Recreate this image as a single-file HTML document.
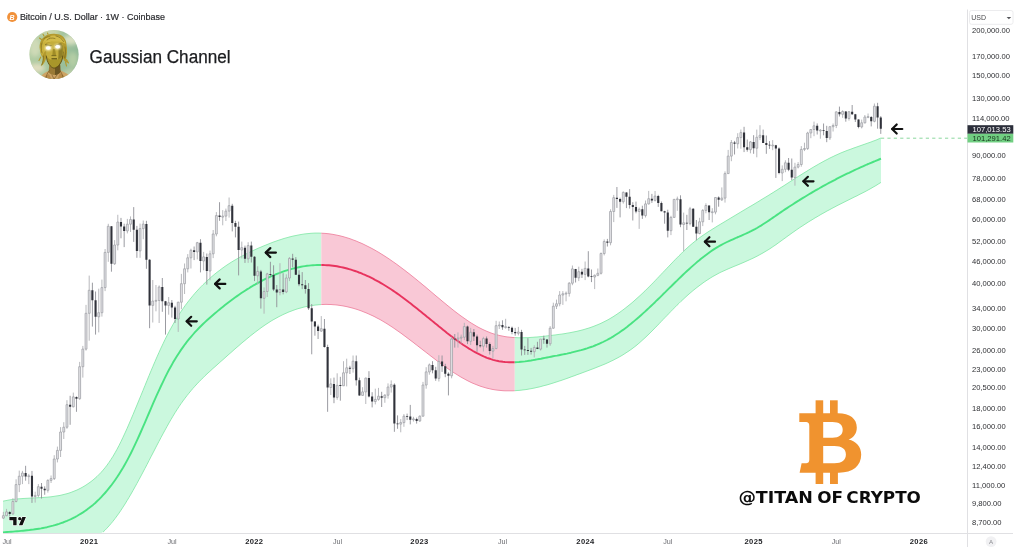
<!DOCTYPE html>
<html lang="en"><head><meta charset="utf-8"><title>Gaussian Channel</title>
<style>html,body{margin:0;padding:0;background:#fff}body{width:1023px;height:557px;overflow:hidden}svg{display:block}text{font-family:"Liberation Sans", Arial, sans-serif}</style></head><body>
<svg width="1023" height="557" viewBox="0 0 1023 557">
<rect width="1023" height="557" fill="#fff"/>
<g id="bands" stroke-linejoin="round" stroke-linecap="butt">
<path d="M3.0,501.2 L5.0,500.8 L7.0,500.4 L9.0,500.0 L11.0,499.7 L13.0,499.5 L15.0,499.2 L17.0,499.0 L19.0,498.8 L21.0,498.7 L23.0,498.5 L25.0,498.4 L27.0,498.3 L29.0,498.2 L31.0,498.1 L33.0,498.0 L35.0,497.9 L37.0,497.8 L39.0,497.7 L41.0,497.6 L43.0,497.5 L45.0,497.3 L47.0,497.2 L49.0,497.0 L51.0,496.8 L53.0,496.5 L55.0,496.2 L57.0,495.9 L59.0,495.6 L61.0,495.2 L63.0,494.7 L65.0,494.2 L67.0,493.7 L69.0,493.1 L71.0,492.4 L73.0,491.6 L75.0,490.8 L77.0,490.0 L79.0,489.0 L81.0,488.0 L83.0,486.9 L85.0,485.7 L87.0,484.4 L89.0,483.0 L91.0,481.6 L93.0,480.0 L95.0,478.3 L97.0,476.5 L99.0,474.5 L101.0,472.5 L103.0,470.2 L105.0,467.8 L107.0,465.2 L109.0,462.4 L111.0,459.4 L113.0,456.3 L115.0,452.9 L117.0,449.3 L119.0,445.5 L121.0,441.5 L123.0,437.3 L125.0,433.0 L127.0,428.6 L129.0,424.0 L131.0,419.3 L133.0,414.6 L135.0,409.8 L137.0,405.0 L139.0,400.1 L141.0,395.3 L143.0,390.4 L145.0,385.5 L147.0,380.6 L149.0,375.7 L151.0,370.9 L153.0,366.2 L155.0,361.5 L157.0,356.9 L159.0,352.4 L161.0,348.0 L163.0,343.8 L165.0,339.6 L167.0,335.6 L169.0,331.8 L171.0,328.1 L173.0,324.5 L175.0,321.1 L177.0,317.8 L179.0,314.6 L181.0,311.6 L183.0,308.7 L185.0,305.8 L187.0,303.1 L189.0,300.5 L191.0,298.0 L193.0,295.6 L195.0,293.2 L197.0,291.0 L199.0,288.8 L201.0,286.7 L203.0,284.7 L205.0,282.8 L207.0,280.9 L209.0,279.1 L211.0,277.3 L213.0,275.6 L215.0,273.9 L217.0,272.3 L219.0,270.8 L221.0,269.3 L223.0,267.8 L225.0,266.4 L227.0,265.0 L229.0,263.7 L231.0,262.4 L233.0,261.2 L235.0,260.0 L237.0,258.9 L239.0,257.7 L241.0,256.6 L243.0,255.6 L245.0,254.5 L247.0,253.5 L249.0,252.5 L251.0,251.6 L253.0,250.6 L255.0,249.7 L257.0,248.8 L259.0,247.9 L261.0,247.1 L263.0,246.2 L265.0,245.4 L267.0,244.6 L269.0,243.8 L271.0,243.0 L273.0,242.2 L275.0,241.5 L277.0,240.8 L279.0,240.1 L281.0,239.5 L283.0,238.8 L285.0,238.2 L287.0,237.7 L289.0,237.1 L291.0,236.6 L293.0,236.1 L295.0,235.7 L297.0,235.3 L299.0,234.9 L301.0,234.5 L303.0,234.2 L305.0,233.9 L307.0,233.7 L309.0,233.5 L311.0,233.3 L313.0,233.2 L315.0,233.1 L317.0,233.1 L319.0,233.1 L321.0,233.2 L321.3,233.2 L321.3,304.5 L321.0,304.6 L319.0,304.7 L317.0,304.9 L315.0,305.1 L313.0,305.4 L311.0,305.7 L309.0,306.0 L307.0,306.4 L305.0,306.8 L303.0,307.3 L301.0,307.9 L299.0,308.4 L297.0,309.0 L295.0,309.7 L293.0,310.4 L291.0,311.2 L289.0,311.9 L287.0,312.8 L285.0,313.7 L283.0,314.6 L281.0,315.6 L279.0,316.6 L277.0,317.7 L275.0,318.8 L273.0,319.9 L271.0,321.1 L269.0,322.4 L267.0,323.7 L265.0,325.0 L263.0,326.4 L261.0,327.8 L259.0,329.3 L257.0,330.8 L255.0,332.3 L253.0,333.9 L251.0,335.4 L249.0,337.1 L247.0,338.7 L245.0,340.4 L243.0,342.0 L241.0,343.7 L239.0,345.5 L237.0,347.2 L235.0,348.9 L233.0,350.7 L231.0,352.5 L229.0,354.2 L227.0,356.0 L225.0,357.8 L223.0,359.6 L221.0,361.3 L219.0,363.1 L217.0,364.9 L215.0,366.7 L213.0,368.4 L211.0,370.3 L209.0,372.1 L207.0,373.9 L205.0,375.8 L203.0,377.8 L201.0,379.8 L199.0,381.8 L197.0,383.9 L195.0,386.1 L193.0,388.3 L191.0,390.7 L189.0,393.1 L187.0,395.6 L185.0,398.2 L183.0,400.9 L181.0,403.7 L179.0,406.6 L177.0,409.7 L175.0,412.8 L173.0,416.1 L171.0,419.5 L169.0,422.9 L167.0,426.5 L165.0,430.1 L163.0,433.8 L161.0,437.5 L159.0,441.3 L157.0,445.1 L155.0,449.0 L153.0,452.9 L151.0,456.7 L149.0,460.6 L147.0,464.5 L145.0,468.3 L143.0,472.1 L141.0,475.9 L139.0,479.6 L137.0,483.3 L135.0,486.9 L133.0,490.5 L131.0,494.0 L129.0,497.4 L127.0,500.7 L125.0,504.0 L123.0,507.1 L121.0,510.2 L119.0,513.1 L117.0,515.9 L115.0,518.6 L113.0,521.2 L111.0,523.6 L109.0,525.9 L107.0,528.1 L105.0,530.2 L103.0,532.1 L101.0,533.2 L99.0,533.2 L97.0,533.2 L95.0,533.2 L93.0,533.2 L91.0,533.2 L89.0,533.2 L87.0,533.2 L85.0,533.2 L83.0,533.2 L81.0,533.2 L79.0,533.2 L77.0,533.2 L75.0,533.2 L73.0,533.2 L71.0,533.2 L69.0,533.2 L67.0,533.2 L65.0,533.2 L63.0,533.2 L61.0,533.2 L59.0,533.2 L57.0,533.2 L55.0,533.2 L53.0,533.2 L51.0,533.2 L49.0,533.2 L47.0,533.2 L45.0,533.2 L43.0,533.2 L41.0,533.2 L39.0,533.2 L37.0,533.2 L35.0,533.2 L33.0,533.2 L31.0,533.2 L29.0,533.2 L27.0,533.2 L25.0,533.2 L23.0,533.2 L21.0,533.2 L19.0,533.2 L17.0,533.2 L15.0,533.2 L13.0,533.2 L11.0,533.2 L9.0,533.2 L7.0,533.2 L5.0,533.2 L3.0,533.2 Z" fill="#cbf8de"/>
<path d="M3.0,501.2 L5.0,500.8 L7.0,500.4 L9.0,500.0 L11.0,499.7 L13.0,499.5 L15.0,499.2 L17.0,499.0 L19.0,498.8 L21.0,498.7 L23.0,498.5 L25.0,498.4 L27.0,498.3 L29.0,498.2 L31.0,498.1 L33.0,498.0 L35.0,497.9 L37.0,497.8 L39.0,497.7 L41.0,497.6 L43.0,497.5 L45.0,497.3 L47.0,497.2 L49.0,497.0 L51.0,496.8 L53.0,496.5 L55.0,496.2 L57.0,495.9 L59.0,495.6 L61.0,495.2 L63.0,494.7 L65.0,494.2 L67.0,493.7 L69.0,493.1 L71.0,492.4 L73.0,491.6 L75.0,490.8 L77.0,490.0 L79.0,489.0 L81.0,488.0 L83.0,486.9 L85.0,485.7 L87.0,484.4 L89.0,483.0 L91.0,481.6 L93.0,480.0 L95.0,478.3 L97.0,476.5 L99.0,474.5 L101.0,472.5 L103.0,470.2 L105.0,467.8 L107.0,465.2 L109.0,462.4 L111.0,459.4 L113.0,456.3 L115.0,452.9 L117.0,449.3 L119.0,445.5 L121.0,441.5 L123.0,437.3 L125.0,433.0 L127.0,428.6 L129.0,424.0 L131.0,419.3 L133.0,414.6 L135.0,409.8 L137.0,405.0 L139.0,400.1 L141.0,395.3 L143.0,390.4 L145.0,385.5 L147.0,380.6 L149.0,375.7 L151.0,370.9 L153.0,366.2 L155.0,361.5 L157.0,356.9 L159.0,352.4 L161.0,348.0 L163.0,343.8 L165.0,339.6 L167.0,335.6 L169.0,331.8 L171.0,328.1 L173.0,324.5 L175.0,321.1 L177.0,317.8 L179.0,314.6 L181.0,311.6 L183.0,308.7 L185.0,305.8 L187.0,303.1 L189.0,300.5 L191.0,298.0 L193.0,295.6 L195.0,293.2 L197.0,291.0 L199.0,288.8 L201.0,286.7 L203.0,284.7 L205.0,282.8 L207.0,280.9 L209.0,279.1 L211.0,277.3 L213.0,275.6 L215.0,273.9 L217.0,272.3 L219.0,270.8 L221.0,269.3 L223.0,267.8 L225.0,266.4 L227.0,265.0 L229.0,263.7 L231.0,262.4 L233.0,261.2 L235.0,260.0 L237.0,258.9 L239.0,257.7 L241.0,256.6 L243.0,255.6 L245.0,254.5 L247.0,253.5 L249.0,252.5 L251.0,251.6 L253.0,250.6 L255.0,249.7 L257.0,248.8 L259.0,247.9 L261.0,247.1 L263.0,246.2 L265.0,245.4 L267.0,244.6 L269.0,243.8 L271.0,243.0 L273.0,242.2 L275.0,241.5 L277.0,240.8 L279.0,240.1 L281.0,239.5 L283.0,238.8 L285.0,238.2 L287.0,237.7 L289.0,237.1 L291.0,236.6 L293.0,236.1 L295.0,235.7 L297.0,235.3 L299.0,234.9 L301.0,234.5 L303.0,234.2 L305.0,233.9 L307.0,233.7 L309.0,233.5 L311.0,233.3 L313.0,233.2 L315.0,233.1 L317.0,233.1 L319.0,233.1 L321.0,233.2 L321.3,233.2" fill="none" stroke="#8ae9ad" stroke-width="0.9"/>
<path d="M103.0,532.1 L105.0,530.2 L107.0,528.1 L109.0,525.9 L111.0,523.6 L113.0,521.2 L115.0,518.6 L117.0,515.9 L119.0,513.1 L121.0,510.2 L123.0,507.1 L125.0,504.0 L127.0,500.7 L129.0,497.4 L131.0,494.0 L133.0,490.5 L135.0,486.9 L137.0,483.3 L139.0,479.6 L141.0,475.9 L143.0,472.1 L145.0,468.3 L147.0,464.5 L149.0,460.6 L151.0,456.7 L153.0,452.9 L155.0,449.0 L157.0,445.1 L159.0,441.3 L161.0,437.5 L163.0,433.8 L165.0,430.1 L167.0,426.5 L169.0,422.9 L171.0,419.5 L173.0,416.1 L175.0,412.8 L177.0,409.7 L179.0,406.6 L181.0,403.7 L183.0,400.9 L185.0,398.2 L187.0,395.6 L189.0,393.1 L191.0,390.7 L193.0,388.3 L195.0,386.1 L197.0,383.9 L199.0,381.8 L201.0,379.8 L203.0,377.8 L205.0,375.8 L207.0,373.9 L209.0,372.1 L211.0,370.3 L213.0,368.4 L215.0,366.7 L217.0,364.9 L219.0,363.1 L221.0,361.3 L223.0,359.6 L225.0,357.8 L227.0,356.0 L229.0,354.2 L231.0,352.5 L233.0,350.7 L235.0,348.9 L237.0,347.2 L239.0,345.5 L241.0,343.7 L243.0,342.0 L245.0,340.4 L247.0,338.7 L249.0,337.1 L251.0,335.4 L253.0,333.9 L255.0,332.3 L257.0,330.8 L259.0,329.3 L261.0,327.8 L263.0,326.4 L265.0,325.0 L267.0,323.7 L269.0,322.4 L271.0,321.1 L273.0,319.9 L275.0,318.8 L277.0,317.7 L279.0,316.6 L281.0,315.6 L283.0,314.6 L285.0,313.7 L287.0,312.8 L289.0,311.9 L291.0,311.2 L293.0,310.4 L295.0,309.7 L297.0,309.0 L299.0,308.4 L301.0,307.9 L303.0,307.3 L305.0,306.8 L307.0,306.4 L309.0,306.0 L311.0,305.7 L313.0,305.4 L315.0,305.1 L317.0,304.9 L319.0,304.7 L321.0,304.6 L321.3,304.5" fill="none" stroke="#8ae9ad" stroke-width="0.9"/>
<path d="M3.0,532.4 L5.0,532.2 L7.0,532.0 L9.0,531.9 L11.0,531.7 L13.0,531.6 L15.0,531.4 L17.0,531.2 L19.0,531.1 L21.0,530.9 L23.0,530.7 L25.0,530.5 L27.0,530.3 L29.0,530.1 L31.0,529.8 L33.0,529.6 L35.0,529.3 L37.0,529.0 L39.0,528.7 L41.0,528.4 L43.0,528.0 L45.0,527.6 L47.0,527.2 L49.0,526.7 L51.0,526.2 L53.0,525.7 L55.0,525.1 L57.0,524.5 L59.0,523.9 L61.0,523.2 L63.0,522.5 L65.0,521.7 L67.0,520.9 L69.0,520.0 L71.0,519.1 L73.0,518.1 L75.0,517.1 L77.0,516.0 L79.0,514.8 L81.0,513.6 L83.0,512.4 L85.0,511.0 L87.0,509.6 L89.0,508.1 L91.0,506.5 L93.0,504.9 L95.0,503.2 L97.0,501.3 L99.0,499.4 L101.0,497.4 L103.0,495.2 L105.0,493.0 L107.0,490.7 L109.0,488.2 L111.0,485.7 L113.0,483.0 L115.0,480.2 L117.0,477.3 L119.0,474.2 L121.0,471.0 L123.0,467.7 L125.0,464.2 L127.0,460.6 L129.0,456.9 L131.0,453.0 L133.0,448.9 L135.0,444.7 L137.0,440.4 L139.0,436.0 L141.0,431.5 L143.0,426.9 L145.0,422.3 L147.0,417.6 L149.0,413.0 L151.0,408.4 L153.0,403.7 L155.0,399.2 L157.0,394.7 L159.0,390.3 L161.0,386.0 L163.0,381.8 L165.0,377.7 L167.0,373.7 L169.0,369.8 L171.0,366.2 L173.0,362.6 L175.0,359.2 L177.0,356.0 L179.0,352.9 L181.0,349.9 L183.0,347.1 L185.0,344.3 L187.0,341.7 L189.0,339.2 L191.0,336.8 L193.0,334.5 L195.0,332.2 L197.0,330.1 L199.0,328.0 L201.0,326.0 L203.0,324.0 L205.0,322.1 L207.0,320.3 L209.0,318.5 L211.0,316.7 L213.0,315.0 L215.0,313.3 L217.0,311.6 L219.0,309.9 L221.0,308.3 L223.0,306.7 L225.0,305.1 L227.0,303.5 L229.0,302.0 L231.0,300.5 L233.0,299.0 L235.0,297.5 L237.0,296.1 L239.0,294.7 L241.0,293.3 L243.0,292.0 L245.0,290.7 L247.0,289.4 L249.0,288.2 L251.0,286.9 L253.0,285.7 L255.0,284.6 L257.0,283.4 L259.0,282.3 L261.0,281.3 L263.0,280.2 L265.0,279.2 L267.0,278.2 L269.0,277.3 L271.0,276.4 L273.0,275.5 L275.0,274.7 L277.0,273.8 L279.0,273.1 L281.0,272.3 L283.0,271.6 L285.0,270.9 L287.0,270.3 L289.0,269.7 L291.0,269.1 L293.0,268.6 L295.0,268.1 L297.0,267.6 L299.0,267.2 L301.0,266.8 L303.0,266.4 L305.0,266.1 L307.0,265.8 L309.0,265.6 L311.0,265.4 L313.0,265.2 L315.0,265.1 L317.0,265.0 L319.0,265.0 L321.0,265.0 L321.3,265.0" fill="none" stroke="#49e382" stroke-width="1.9"/>
<path d="M321.3,233.2 L323.0,233.3 L325.0,233.4 L327.0,233.6 L329.0,233.8 L331.0,234.1 L333.0,234.4 L335.0,234.8 L337.0,235.2 L339.0,235.6 L341.0,236.1 L343.0,236.6 L345.0,237.2 L347.0,237.8 L349.0,238.4 L351.0,239.1 L353.0,239.9 L355.0,240.6 L357.0,241.4 L359.0,242.3 L361.0,243.1 L363.0,244.0 L365.0,245.0 L367.0,246.0 L369.0,247.0 L371.0,248.0 L373.0,249.1 L375.0,250.2 L377.0,251.4 L379.0,252.5 L381.0,253.8 L383.0,255.0 L385.0,256.3 L387.0,257.6 L389.0,258.9 L391.0,260.3 L393.0,261.7 L395.0,263.1 L397.0,264.5 L399.0,266.0 L401.0,267.5 L403.0,269.0 L405.0,270.5 L407.0,272.1 L409.0,273.6 L411.0,275.2 L413.0,276.8 L415.0,278.4 L417.0,280.0 L419.0,281.7 L421.0,283.3 L423.0,285.0 L425.0,286.6 L427.0,288.3 L429.0,290.0 L431.0,291.7 L433.0,293.4 L435.0,295.1 L437.0,296.8 L439.0,298.4 L441.0,300.1 L443.0,301.8 L445.0,303.4 L447.0,305.1 L449.0,306.7 L451.0,308.3 L453.0,309.9 L455.0,311.5 L457.0,313.0 L459.0,314.5 L461.0,316.0 L463.0,317.4 L465.0,318.8 L467.0,320.2 L469.0,321.6 L471.0,322.9 L473.0,324.1 L475.0,325.3 L477.0,326.5 L479.0,327.6 L481.0,328.6 L483.0,329.6 L485.0,330.5 L487.0,331.4 L489.0,332.2 L491.0,333.0 L493.0,333.7 L495.0,334.3 L497.0,334.8 L499.0,335.4 L501.0,335.8 L503.0,336.2 L505.0,336.6 L507.0,336.9 L509.0,337.1 L511.0,337.3 L513.0,337.5 L514.8,337.6 L514.8,390.7 L513.0,390.8 L511.0,390.8 L509.0,390.8 L507.0,390.8 L505.0,390.8 L503.0,390.7 L501.0,390.5 L499.0,390.3 L497.0,390.1 L495.0,389.8 L493.0,389.5 L491.0,389.1 L489.0,388.6 L487.0,388.2 L485.0,387.6 L483.0,387.0 L481.0,386.4 L479.0,385.7 L477.0,384.9 L475.0,384.1 L473.0,383.3 L471.0,382.4 L469.0,381.4 L467.0,380.4 L465.0,379.3 L463.0,378.2 L461.0,377.1 L459.0,375.9 L457.0,374.6 L455.0,373.4 L453.0,372.1 L451.0,370.8 L449.0,369.4 L447.0,368.0 L445.0,366.6 L443.0,365.2 L441.0,363.7 L439.0,362.2 L437.0,360.8 L435.0,359.2 L433.0,357.7 L431.0,356.2 L429.0,354.6 L427.0,353.1 L425.0,351.5 L423.0,350.0 L421.0,348.4 L419.0,346.9 L417.0,345.3 L415.0,343.8 L413.0,342.2 L411.0,340.7 L409.0,339.2 L407.0,337.7 L405.0,336.2 L403.0,334.7 L401.0,333.2 L399.0,331.8 L397.0,330.4 L395.0,329.0 L393.0,327.6 L391.0,326.3 L389.0,325.0 L387.0,323.7 L385.0,322.5 L383.0,321.3 L381.0,320.1 L379.0,319.0 L377.0,318.0 L375.0,316.9 L373.0,315.9 L371.0,315.0 L369.0,314.1 L367.0,313.2 L365.0,312.4 L363.0,311.6 L361.0,310.8 L359.0,310.1 L357.0,309.4 L355.0,308.8 L353.0,308.2 L351.0,307.7 L349.0,307.2 L347.0,306.7 L345.0,306.3 L343.0,305.9 L341.0,305.6 L339.0,305.3 L337.0,305.0 L335.0,304.8 L333.0,304.7 L331.0,304.5 L329.0,304.5 L327.0,304.4 L325.0,304.4 L323.0,304.5 L321.3,304.5 Z" fill="#f9c8d6"/>
<path d="M321.3,233.2 L323.0,233.3 L325.0,233.4 L327.0,233.6 L329.0,233.8 L331.0,234.1 L333.0,234.4 L335.0,234.8 L337.0,235.2 L339.0,235.6 L341.0,236.1 L343.0,236.6 L345.0,237.2 L347.0,237.8 L349.0,238.4 L351.0,239.1 L353.0,239.9 L355.0,240.6 L357.0,241.4 L359.0,242.3 L361.0,243.1 L363.0,244.0 L365.0,245.0 L367.0,246.0 L369.0,247.0 L371.0,248.0 L373.0,249.1 L375.0,250.2 L377.0,251.4 L379.0,252.5 L381.0,253.8 L383.0,255.0 L385.0,256.3 L387.0,257.6 L389.0,258.9 L391.0,260.3 L393.0,261.7 L395.0,263.1 L397.0,264.5 L399.0,266.0 L401.0,267.5 L403.0,269.0 L405.0,270.5 L407.0,272.1 L409.0,273.6 L411.0,275.2 L413.0,276.8 L415.0,278.4 L417.0,280.0 L419.0,281.7 L421.0,283.3 L423.0,285.0 L425.0,286.6 L427.0,288.3 L429.0,290.0 L431.0,291.7 L433.0,293.4 L435.0,295.1 L437.0,296.8 L439.0,298.4 L441.0,300.1 L443.0,301.8 L445.0,303.4 L447.0,305.1 L449.0,306.7 L451.0,308.3 L453.0,309.9 L455.0,311.5 L457.0,313.0 L459.0,314.5 L461.0,316.0 L463.0,317.4 L465.0,318.8 L467.0,320.2 L469.0,321.6 L471.0,322.9 L473.0,324.1 L475.0,325.3 L477.0,326.5 L479.0,327.6 L481.0,328.6 L483.0,329.6 L485.0,330.5 L487.0,331.4 L489.0,332.2 L491.0,333.0 L493.0,333.7 L495.0,334.3 L497.0,334.8 L499.0,335.4 L501.0,335.8 L503.0,336.2 L505.0,336.6 L507.0,336.9 L509.0,337.1 L511.0,337.3 L513.0,337.5 L514.8,337.6" fill="none" stroke="#ee86a2" stroke-width="0.9"/>
<path d="M321.3,304.5 L323.0,304.5 L325.0,304.4 L327.0,304.4 L329.0,304.5 L331.0,304.5 L333.0,304.7 L335.0,304.8 L337.0,305.0 L339.0,305.3 L341.0,305.6 L343.0,305.9 L345.0,306.3 L347.0,306.7 L349.0,307.2 L351.0,307.7 L353.0,308.2 L355.0,308.8 L357.0,309.4 L359.0,310.1 L361.0,310.8 L363.0,311.6 L365.0,312.4 L367.0,313.2 L369.0,314.1 L371.0,315.0 L373.0,315.9 L375.0,316.9 L377.0,318.0 L379.0,319.0 L381.0,320.1 L383.0,321.3 L385.0,322.5 L387.0,323.7 L389.0,325.0 L391.0,326.3 L393.0,327.6 L395.0,329.0 L397.0,330.4 L399.0,331.8 L401.0,333.2 L403.0,334.7 L405.0,336.2 L407.0,337.7 L409.0,339.2 L411.0,340.7 L413.0,342.2 L415.0,343.8 L417.0,345.3 L419.0,346.9 L421.0,348.4 L423.0,350.0 L425.0,351.5 L427.0,353.1 L429.0,354.6 L431.0,356.2 L433.0,357.7 L435.0,359.2 L437.0,360.8 L439.0,362.2 L441.0,363.7 L443.0,365.2 L445.0,366.6 L447.0,368.0 L449.0,369.4 L451.0,370.8 L453.0,372.1 L455.0,373.4 L457.0,374.6 L459.0,375.9 L461.0,377.1 L463.0,378.2 L465.0,379.3 L467.0,380.4 L469.0,381.4 L471.0,382.4 L473.0,383.3 L475.0,384.1 L477.0,384.9 L479.0,385.7 L481.0,386.4 L483.0,387.0 L485.0,387.6 L487.0,388.2 L489.0,388.6 L491.0,389.1 L493.0,389.5 L495.0,389.8 L497.0,390.1 L499.0,390.3 L501.0,390.5 L503.0,390.7 L505.0,390.8 L507.0,390.8 L509.0,390.8 L511.0,390.8 L513.0,390.8 L514.8,390.7" fill="none" stroke="#ee86a2" stroke-width="0.9"/>
<path d="M321.3,265.0 L323.0,265.0 L325.0,265.1 L327.0,265.2 L329.0,265.3 L331.0,265.5 L333.0,265.7 L335.0,266.0 L337.0,266.3 L339.0,266.7 L341.0,267.1 L343.0,267.5 L345.0,268.0 L347.0,268.5 L349.0,269.1 L351.0,269.7 L353.0,270.3 L355.0,271.0 L357.0,271.7 L359.0,272.5 L361.0,273.2 L363.0,274.1 L365.0,274.9 L367.0,275.8 L369.0,276.7 L371.0,277.7 L373.0,278.7 L375.0,279.8 L377.0,280.8 L379.0,281.9 L381.0,283.1 L383.0,284.3 L385.0,285.5 L387.0,286.7 L389.0,288.0 L391.0,289.3 L393.0,290.6 L395.0,292.0 L397.0,293.4 L399.0,294.8 L401.0,296.3 L403.0,297.7 L405.0,299.2 L407.0,300.7 L409.0,302.3 L411.0,303.8 L413.0,305.4 L415.0,307.0 L417.0,308.6 L419.0,310.2 L421.0,311.8 L423.0,313.4 L425.0,315.0 L427.0,316.7 L429.0,318.3 L431.0,319.9 L433.0,321.6 L435.0,323.2 L437.0,324.8 L439.0,326.5 L441.0,328.1 L443.0,329.7 L445.0,331.3 L447.0,332.9 L449.0,334.4 L451.0,336.0 L453.0,337.5 L455.0,339.0 L457.0,340.5 L459.0,341.9 L461.0,343.3 L463.0,344.7 L465.0,346.0 L467.0,347.3 L469.0,348.6 L471.0,349.8 L473.0,351.0 L475.0,352.1 L477.0,353.2 L479.0,354.2 L481.0,355.2 L483.0,356.1 L485.0,357.0 L487.0,357.8 L489.0,358.5 L491.0,359.2 L493.0,359.8 L495.0,360.3 L497.0,360.8 L499.0,361.2 L501.0,361.5 L503.0,361.8 L505.0,362.0 L507.0,362.1 L509.0,362.2 L511.0,362.3 L513.0,362.3 L514.8,362.2" fill="none" stroke="#e8335e" stroke-width="1.9"/>
<path d="M514.8,337.6 L515.0,337.6 L517.0,337.7 L519.0,337.8 L521.0,337.8 L523.0,337.8 L525.0,337.7 L527.0,337.7 L529.0,337.6 L531.0,337.4 L533.0,337.3 L535.0,337.1 L537.0,337.0 L539.0,336.8 L541.0,336.6 L543.0,336.4 L545.0,336.2 L547.0,335.9 L549.0,335.7 L551.0,335.5 L553.0,335.2 L555.0,335.0 L557.0,334.7 L559.0,334.4 L561.0,334.2 L563.0,333.9 L565.0,333.6 L567.0,333.2 L569.0,332.9 L571.0,332.5 L573.0,332.1 L575.0,331.7 L577.0,331.3 L579.0,330.8 L581.0,330.3 L583.0,329.8 L585.0,329.2 L587.0,328.6 L589.0,328.0 L591.0,327.3 L593.0,326.6 L595.0,325.8 L597.0,325.0 L599.0,324.2 L601.0,323.3 L603.0,322.3 L605.0,321.3 L607.0,320.3 L609.0,319.2 L611.0,318.0 L613.0,316.8 L615.0,315.5 L617.0,314.2 L619.0,312.8 L621.0,311.4 L623.0,309.9 L625.0,308.4 L627.0,306.8 L629.0,305.2 L631.0,303.6 L633.0,301.9 L635.0,300.1 L637.0,298.3 L639.0,296.5 L641.0,294.7 L643.0,292.8 L645.0,290.9 L647.0,288.9 L649.0,286.9 L651.0,284.9 L653.0,282.9 L655.0,280.8 L657.0,278.7 L659.0,276.6 L661.0,274.5 L663.0,272.4 L665.0,270.3 L667.0,268.2 L669.0,266.1 L671.0,264.0 L673.0,261.9 L675.0,259.8 L677.0,257.8 L679.0,255.8 L681.0,253.8 L683.0,251.8 L685.0,249.9 L687.0,248.1 L689.0,246.3 L691.0,244.6 L693.0,242.9 L695.0,241.3 L697.0,239.7 L699.0,238.2 L701.0,236.7 L703.0,235.3 L705.0,234.0 L707.0,232.6 L709.0,231.3 L711.0,230.1 L713.0,228.8 L715.0,227.6 L717.0,226.3 L719.0,225.1 L721.0,223.9 L723.0,222.7 L725.0,221.5 L727.0,220.3 L729.0,219.1 L731.0,217.9 L733.0,216.7 L735.0,215.5 L737.0,214.3 L739.0,213.1 L741.0,211.9 L743.0,210.7 L745.0,209.5 L747.0,208.3 L749.0,207.1 L751.0,206.0 L753.0,204.8 L755.0,203.6 L757.0,202.4 L759.0,201.2 L761.0,199.9 L763.0,198.7 L765.0,197.5 L767.0,196.3 L769.0,195.1 L771.0,193.8 L773.0,192.6 L775.0,191.3 L777.0,190.1 L779.0,188.8 L781.0,187.5 L783.0,186.3 L785.0,185.0 L787.0,183.7 L789.0,182.4 L791.0,181.1 L793.0,179.9 L795.0,178.6 L797.0,177.3 L799.0,176.0 L801.0,174.8 L803.0,173.5 L805.0,172.3 L807.0,171.1 L809.0,169.8 L811.0,168.6 L813.0,167.4 L815.0,166.2 L817.0,165.1 L819.0,163.9 L821.0,162.8 L823.0,161.7 L825.0,160.6 L827.0,159.6 L829.0,158.5 L831.0,157.5 L833.0,156.6 L835.0,155.6 L837.0,154.7 L839.0,153.8 L841.0,152.9 L843.0,152.1 L845.0,151.3 L847.0,150.5 L849.0,149.8 L851.0,149.1 L853.0,148.3 L855.0,147.6 L857.0,146.9 L859.0,146.2 L861.0,145.5 L863.0,144.8 L865.0,144.1 L867.0,143.4 L869.0,142.7 L871.0,142.0 L873.0,141.2 L875.0,140.5 L877.0,139.7 L879.0,138.8 L881.0,138.0 L881.0,182.4 L879.0,183.6 L877.0,184.9 L875.0,186.1 L873.0,187.2 L871.0,188.4 L869.0,189.5 L867.0,190.6 L865.0,191.7 L863.0,192.7 L861.0,193.7 L859.0,194.7 L857.0,195.8 L855.0,196.7 L853.0,197.7 L851.0,198.7 L849.0,199.7 L847.0,200.7 L845.0,201.7 L843.0,202.7 L841.0,203.7 L839.0,204.7 L837.0,205.7 L835.0,206.8 L833.0,207.8 L831.0,208.9 L829.0,210.0 L827.0,211.0 L825.0,212.2 L823.0,213.3 L821.0,214.4 L819.0,215.6 L817.0,216.8 L815.0,217.9 L813.0,219.2 L811.0,220.4 L809.0,221.6 L807.0,222.9 L805.0,224.2 L803.0,225.5 L801.0,226.8 L799.0,228.1 L797.0,229.5 L795.0,230.9 L793.0,232.3 L791.0,233.7 L789.0,235.2 L787.0,236.6 L785.0,238.1 L783.0,239.5 L781.0,241.0 L779.0,242.4 L777.0,243.9 L775.0,245.3 L773.0,246.6 L771.0,248.0 L769.0,249.3 L767.0,250.5 L765.0,251.7 L763.0,252.9 L761.0,254.0 L759.0,255.1 L757.0,256.2 L755.0,257.2 L753.0,258.2 L751.0,259.1 L749.0,260.0 L747.0,260.9 L745.0,261.8 L743.0,262.7 L741.0,263.5 L739.0,264.4 L737.0,265.2 L735.0,266.0 L733.0,266.8 L731.0,267.7 L729.0,268.5 L727.0,269.4 L725.0,270.3 L723.0,271.2 L721.0,272.1 L719.0,273.1 L717.0,274.2 L715.0,275.3 L713.0,276.4 L711.0,277.6 L709.0,278.9 L707.0,280.2 L705.0,281.5 L703.0,282.9 L701.0,284.4 L699.0,285.9 L697.0,287.4 L695.0,289.0 L693.0,290.6 L691.0,292.3 L689.0,294.0 L687.0,295.8 L685.0,297.6 L683.0,299.5 L681.0,301.3 L679.0,303.3 L677.0,305.2 L675.0,307.2 L673.0,309.3 L671.0,311.3 L669.0,313.4 L667.0,315.5 L665.0,317.5 L663.0,319.6 L661.0,321.7 L659.0,323.8 L657.0,325.9 L655.0,327.9 L653.0,330.0 L651.0,332.0 L649.0,334.0 L647.0,335.9 L645.0,337.8 L643.0,339.6 L641.0,341.4 L639.0,343.2 L637.0,344.9 L635.0,346.5 L633.0,348.0 L631.0,349.5 L629.0,350.9 L627.0,352.2 L625.0,353.5 L623.0,354.8 L621.0,356.0 L619.0,357.1 L617.0,358.2 L615.0,359.2 L613.0,360.3 L611.0,361.2 L609.0,362.2 L607.0,363.1 L605.0,364.0 L603.0,364.8 L601.0,365.6 L599.0,366.4 L597.0,367.2 L595.0,368.0 L593.0,368.8 L591.0,369.5 L589.0,370.3 L587.0,371.0 L585.0,371.8 L583.0,372.5 L581.0,373.3 L579.0,374.0 L577.0,374.7 L575.0,375.5 L573.0,376.2 L571.0,376.9 L569.0,377.7 L567.0,378.4 L565.0,379.1 L563.0,379.8 L561.0,380.5 L559.0,381.1 L557.0,381.8 L555.0,382.4 L553.0,383.1 L551.0,383.7 L549.0,384.3 L547.0,384.9 L545.0,385.4 L543.0,385.9 L541.0,386.5 L539.0,387.0 L537.0,387.4 L535.0,387.9 L533.0,388.3 L531.0,388.7 L529.0,389.0 L527.0,389.4 L525.0,389.7 L523.0,389.9 L521.0,390.2 L519.0,390.4 L517.0,390.5 L515.0,390.7 L514.8,390.7 Z" fill="#cbf8de"/>
<path d="M514.8,337.6 L515.0,337.6 L517.0,337.7 L519.0,337.8 L521.0,337.8 L523.0,337.8 L525.0,337.7 L527.0,337.7 L529.0,337.6 L531.0,337.4 L533.0,337.3 L535.0,337.1 L537.0,337.0 L539.0,336.8 L541.0,336.6 L543.0,336.4 L545.0,336.2 L547.0,335.9 L549.0,335.7 L551.0,335.5 L553.0,335.2 L555.0,335.0 L557.0,334.7 L559.0,334.4 L561.0,334.2 L563.0,333.9 L565.0,333.6 L567.0,333.2 L569.0,332.9 L571.0,332.5 L573.0,332.1 L575.0,331.7 L577.0,331.3 L579.0,330.8 L581.0,330.3 L583.0,329.8 L585.0,329.2 L587.0,328.6 L589.0,328.0 L591.0,327.3 L593.0,326.6 L595.0,325.8 L597.0,325.0 L599.0,324.2 L601.0,323.3 L603.0,322.3 L605.0,321.3 L607.0,320.3 L609.0,319.2 L611.0,318.0 L613.0,316.8 L615.0,315.5 L617.0,314.2 L619.0,312.8 L621.0,311.4 L623.0,309.9 L625.0,308.4 L627.0,306.8 L629.0,305.2 L631.0,303.6 L633.0,301.9 L635.0,300.1 L637.0,298.3 L639.0,296.5 L641.0,294.7 L643.0,292.8 L645.0,290.9 L647.0,288.9 L649.0,286.9 L651.0,284.9 L653.0,282.9 L655.0,280.8 L657.0,278.7 L659.0,276.6 L661.0,274.5 L663.0,272.4 L665.0,270.3 L667.0,268.2 L669.0,266.1 L671.0,264.0 L673.0,261.9 L675.0,259.8 L677.0,257.8 L679.0,255.8 L681.0,253.8 L683.0,251.8 L685.0,249.9 L687.0,248.1 L689.0,246.3 L691.0,244.6 L693.0,242.9 L695.0,241.3 L697.0,239.7 L699.0,238.2 L701.0,236.7 L703.0,235.3 L705.0,234.0 L707.0,232.6 L709.0,231.3 L711.0,230.1 L713.0,228.8 L715.0,227.6 L717.0,226.3 L719.0,225.1 L721.0,223.9 L723.0,222.7 L725.0,221.5 L727.0,220.3 L729.0,219.1 L731.0,217.9 L733.0,216.7 L735.0,215.5 L737.0,214.3 L739.0,213.1 L741.0,211.9 L743.0,210.7 L745.0,209.5 L747.0,208.3 L749.0,207.1 L751.0,206.0 L753.0,204.8 L755.0,203.6 L757.0,202.4 L759.0,201.2 L761.0,199.9 L763.0,198.7 L765.0,197.5 L767.0,196.3 L769.0,195.1 L771.0,193.8 L773.0,192.6 L775.0,191.3 L777.0,190.1 L779.0,188.8 L781.0,187.5 L783.0,186.3 L785.0,185.0 L787.0,183.7 L789.0,182.4 L791.0,181.1 L793.0,179.9 L795.0,178.6 L797.0,177.3 L799.0,176.0 L801.0,174.8 L803.0,173.5 L805.0,172.3 L807.0,171.1 L809.0,169.8 L811.0,168.6 L813.0,167.4 L815.0,166.2 L817.0,165.1 L819.0,163.9 L821.0,162.8 L823.0,161.7 L825.0,160.6 L827.0,159.6 L829.0,158.5 L831.0,157.5 L833.0,156.6 L835.0,155.6 L837.0,154.7 L839.0,153.8 L841.0,152.9 L843.0,152.1 L845.0,151.3 L847.0,150.5 L849.0,149.8 L851.0,149.1 L853.0,148.3 L855.0,147.6 L857.0,146.9 L859.0,146.2 L861.0,145.5 L863.0,144.8 L865.0,144.1 L867.0,143.4 L869.0,142.7 L871.0,142.0 L873.0,141.2 L875.0,140.5 L877.0,139.7 L879.0,138.8 L881.0,138.0" fill="none" stroke="#8ae9ad" stroke-width="0.9"/>
<path d="M514.8,390.7 L515.0,390.7 L517.0,390.5 L519.0,390.4 L521.0,390.2 L523.0,389.9 L525.0,389.7 L527.0,389.4 L529.0,389.0 L531.0,388.7 L533.0,388.3 L535.0,387.9 L537.0,387.4 L539.0,387.0 L541.0,386.5 L543.0,385.9 L545.0,385.4 L547.0,384.9 L549.0,384.3 L551.0,383.7 L553.0,383.1 L555.0,382.4 L557.0,381.8 L559.0,381.1 L561.0,380.5 L563.0,379.8 L565.0,379.1 L567.0,378.4 L569.0,377.7 L571.0,376.9 L573.0,376.2 L575.0,375.5 L577.0,374.7 L579.0,374.0 L581.0,373.3 L583.0,372.5 L585.0,371.8 L587.0,371.0 L589.0,370.3 L591.0,369.5 L593.0,368.8 L595.0,368.0 L597.0,367.2 L599.0,366.4 L601.0,365.6 L603.0,364.8 L605.0,364.0 L607.0,363.1 L609.0,362.2 L611.0,361.2 L613.0,360.3 L615.0,359.2 L617.0,358.2 L619.0,357.1 L621.0,356.0 L623.0,354.8 L625.0,353.5 L627.0,352.2 L629.0,350.9 L631.0,349.5 L633.0,348.0 L635.0,346.5 L637.0,344.9 L639.0,343.2 L641.0,341.4 L643.0,339.6 L645.0,337.8 L647.0,335.9 L649.0,334.0 L651.0,332.0 L653.0,330.0 L655.0,327.9 L657.0,325.9 L659.0,323.8 L661.0,321.7 L663.0,319.6 L665.0,317.5 L667.0,315.5 L669.0,313.4 L671.0,311.3 L673.0,309.3 L675.0,307.2 L677.0,305.2 L679.0,303.3 L681.0,301.3 L683.0,299.5 L685.0,297.6 L687.0,295.8 L689.0,294.0 L691.0,292.3 L693.0,290.6 L695.0,289.0 L697.0,287.4 L699.0,285.9 L701.0,284.4 L703.0,282.9 L705.0,281.5 L707.0,280.2 L709.0,278.9 L711.0,277.6 L713.0,276.4 L715.0,275.3 L717.0,274.2 L719.0,273.1 L721.0,272.1 L723.0,271.2 L725.0,270.3 L727.0,269.4 L729.0,268.5 L731.0,267.7 L733.0,266.8 L735.0,266.0 L737.0,265.2 L739.0,264.4 L741.0,263.5 L743.0,262.7 L745.0,261.8 L747.0,260.9 L749.0,260.0 L751.0,259.1 L753.0,258.2 L755.0,257.2 L757.0,256.2 L759.0,255.1 L761.0,254.0 L763.0,252.9 L765.0,251.7 L767.0,250.5 L769.0,249.3 L771.0,248.0 L773.0,246.6 L775.0,245.3 L777.0,243.9 L779.0,242.4 L781.0,241.0 L783.0,239.5 L785.0,238.1 L787.0,236.6 L789.0,235.2 L791.0,233.7 L793.0,232.3 L795.0,230.9 L797.0,229.5 L799.0,228.1 L801.0,226.8 L803.0,225.5 L805.0,224.2 L807.0,222.9 L809.0,221.6 L811.0,220.4 L813.0,219.2 L815.0,217.9 L817.0,216.8 L819.0,215.6 L821.0,214.4 L823.0,213.3 L825.0,212.2 L827.0,211.0 L829.0,210.0 L831.0,208.9 L833.0,207.8 L835.0,206.8 L837.0,205.7 L839.0,204.7 L841.0,203.7 L843.0,202.7 L845.0,201.7 L847.0,200.7 L849.0,199.7 L851.0,198.7 L853.0,197.7 L855.0,196.7 L857.0,195.8 L859.0,194.7 L861.0,193.7 L863.0,192.7 L865.0,191.7 L867.0,190.6 L869.0,189.5 L871.0,188.4 L873.0,187.2 L875.0,186.1 L877.0,184.9 L879.0,183.6 L881.0,182.4" fill="none" stroke="#8ae9ad" stroke-width="0.9"/>
<path d="M514.8,362.2 L515.0,362.2 L517.0,362.1 L519.0,362.0 L521.0,361.8 L523.0,361.6 L525.0,361.4 L527.0,361.1 L529.0,360.8 L531.0,360.5 L533.0,360.1 L535.0,359.8 L537.0,359.4 L539.0,359.0 L541.0,358.7 L543.0,358.3 L545.0,357.9 L547.0,357.5 L549.0,357.1 L551.0,356.7 L553.0,356.3 L555.0,355.9 L557.0,355.6 L559.0,355.2 L561.0,354.8 L563.0,354.4 L565.0,354.0 L567.0,353.6 L569.0,353.1 L571.0,352.7 L573.0,352.2 L575.0,351.7 L577.0,351.2 L579.0,350.7 L581.0,350.2 L583.0,349.6 L585.0,349.0 L587.0,348.4 L589.0,347.7 L591.0,347.0 L593.0,346.3 L595.0,345.5 L597.0,344.7 L599.0,343.8 L601.0,342.9 L603.0,342.0 L605.0,341.0 L607.0,340.0 L609.0,338.9 L611.0,337.8 L613.0,336.6 L615.0,335.3 L617.0,334.0 L619.0,332.7 L621.0,331.3 L623.0,329.9 L625.0,328.4 L627.0,326.9 L629.0,325.3 L631.0,323.7 L633.0,322.1 L635.0,320.4 L637.0,318.7 L639.0,317.0 L641.0,315.2 L643.0,313.4 L645.0,311.6 L647.0,309.7 L649.0,307.9 L651.0,306.0 L653.0,304.1 L655.0,302.2 L657.0,300.2 L659.0,298.3 L661.0,296.3 L663.0,294.3 L665.0,292.4 L667.0,290.4 L669.0,288.4 L671.0,286.5 L673.0,284.5 L675.0,282.5 L677.0,280.6 L679.0,278.6 L681.0,276.7 L683.0,274.8 L685.0,272.9 L687.0,271.0 L689.0,269.2 L691.0,267.4 L693.0,265.6 L695.0,263.9 L697.0,262.1 L699.0,260.5 L701.0,258.8 L703.0,257.2 L705.0,255.7 L707.0,254.2 L709.0,252.7 L711.0,251.3 L713.0,249.9 L715.0,248.6 L717.0,247.4 L719.0,246.2 L721.0,245.1 L723.0,244.0 L725.0,243.0 L727.0,242.0 L729.0,241.1 L731.0,240.2 L733.0,239.3 L735.0,238.4 L737.0,237.5 L739.0,236.7 L741.0,235.8 L743.0,234.9 L745.0,234.0 L747.0,233.1 L749.0,232.2 L751.0,231.2 L753.0,230.1 L755.0,229.1 L757.0,228.0 L759.0,226.8 L761.0,225.6 L763.0,224.3 L765.0,223.0 L767.0,221.7 L769.0,220.4 L771.0,219.0 L773.0,217.6 L775.0,216.3 L777.0,214.9 L779.0,213.5 L781.0,212.1 L783.0,210.8 L785.0,209.4 L787.0,208.1 L789.0,206.8 L791.0,205.5 L793.0,204.2 L795.0,202.9 L797.0,201.6 L799.0,200.4 L801.0,199.1 L803.0,197.9 L805.0,196.7 L807.0,195.5 L809.0,194.3 L811.0,193.1 L813.0,191.9 L815.0,190.7 L817.0,189.6 L819.0,188.5 L821.0,187.3 L823.0,186.2 L825.0,185.1 L827.0,184.0 L829.0,182.9 L831.0,181.9 L833.0,180.8 L835.0,179.8 L837.0,178.7 L839.0,177.7 L841.0,176.7 L843.0,175.7 L845.0,174.7 L847.0,173.7 L849.0,172.8 L851.0,171.8 L853.0,170.9 L855.0,169.9 L857.0,169.0 L859.0,168.1 L861.0,167.2 L863.0,166.3 L865.0,165.4 L867.0,164.5 L869.0,163.7 L871.0,162.8 L873.0,162.0 L875.0,161.2 L877.0,160.3 L879.0,159.5 L881.0,158.7" fill="none" stroke="#49e382" stroke-width="1.9"/>
</g>
<line x1="881" y1="138.2" x2="967" y2="138.2" stroke="#7fd394" stroke-width="0.9" stroke-dasharray="3.2 3.2"/>
<g id="candles" shape-rendering="auto">
<path d="M3.37,511.9V518.8 M6.55,508.9V516.2 M12.90,498.2V514.8 M16.08,479.3V502.4 M19.26,470.6V492.1 M22.44,470.9V484.1 M28.80,473.9V484.1 M35.16,491.7V502.6 M38.34,484.1V497.4 M47.87,479.3V492.6 M51.05,475.5V483.0 M54.23,455.2V480.0 M57.41,446.6V462.4 M60.59,427.1V457.0 M63.77,422.2V439.0 M66.95,400.2V428.8 M73.31,392.6V407.4 M79.66,361.9V399.8 M82.84,345.9V377.6 M86.02,304.9V350.6 M89.20,275.6V340.7 M98.74,288.7V332.4 M101.92,279.6V316.6 M105.09,249.0V291.1 M108.27,223.8V261.8 M114.63,240.1V264.9 M117.81,214.8V250.3 M127.35,218.9V233.4 M130.53,216.4V232.0 M140.06,223.6V257.8 M143.24,220.5V239.2 M152.78,280.0V322.5 M155.96,285.0V311.3 M159.14,285.4V323.0 M168.68,297.0V314.7 M178.21,301.8V331.9 M181.39,273.9V309.2 M184.57,263.5V294.0 M187.75,254.1V272.4 M190.93,248.7V268.5 M197.29,241.9V259.4 M203.64,251.9V270.3 M210.00,250.6V280.3 M213.18,230.0V258.1 M216.36,212.1V236.3 M222.72,210.1V225.3 M225.90,208.6V221.0 M229.08,197.5V217.6 M241.79,241.6V258.4 M248.15,242.2V262.9 M257.69,266.3V284.6 M264.05,287.4V313.7 M267.22,272.8V297.0 M279.94,263.2V295.3 M286.30,274.3V293.2 M289.48,257.1V281.1 M321.27,316.1V331.9 M330.80,378.3V395.0 M337.16,373.3V399.8 M343.52,361.2V386.0 M346.70,358.7V386.4 M353.06,355.5V372.6 M362.59,387.2V395.8 M365.77,377.6V404.0 M375.31,388.7V404.4 M378.49,387.9V400.7 M384.85,394.2V402.8 M388.03,383.4V398.6 M391.20,380.4V392.6 M400.74,419.1V432.3 M403.92,414.1V426.8 M413.46,416.8V421.5 M419.82,415.4V422.0 M422.99,381.9V416.4 M426.17,367.2V388.7 M429.35,363.5V374.7 M438.89,355.2V381.5 M451.61,336.8V378.3 M457.96,332.4V347.6 M461.14,334.6V343.6 M464.32,322.8V340.1 M470.68,327.9V345.0 M483.40,336.8V351.5 M492.93,345.9V358.4 M496.11,320.8V349.1 M499.29,321.5V329.0 M505.65,318.8V328.7 M518.37,326.9V335.4 M534.26,345.3V357.4 M540.62,339.0V350.6 M550.15,326.1V345.9 M553.33,302.7V328.7 M556.51,299.6V309.0 M559.69,291.1V306.3 M562.87,291.1V304.9 M566.05,291.5V301.3 M569.23,282.1V296.6 M572.41,265.5V285.2 M578.77,266.7V281.1 M585.12,261.5V280.1 M594.66,274.5V289.1 M597.84,268.5V276.2 M601.02,252.5V274.5 M604.20,239.4V255.4 M610.56,209.3V245.3 M613.74,194.9V222.1 M623.27,191.4V203.6 M639.17,207.5V228.9 M645.52,200.5V217.5 M648.70,190.9V204.5 M655.06,191.0V201.5 M670.96,215.8V235.1 M674.14,198.9V217.8 M677.32,196.6V210.8 M683.67,212.6V251.2 M690.03,206.9V225.3 M699.57,217.8V234.3 M702.75,209.1V226.1 M705.93,203.3V213.3 M712.28,208.2V222.4 M715.46,197.5V214.3 M721.82,187.4V201.0 M725.00,171.4V202.6 M728.18,149.9V173.7 M731.36,140.0V161.2 M737.72,133.2V148.5 M740.89,129.5V148.7 M750.43,141.1V153.3 M756.79,129.6V157.3 M759.97,125.2V140.1 M772.69,140.1V150.2 M782.22,165.4V181.1 M785.40,160.3V172.2 M794.94,162.8V185.7 M798.12,162.1V168.4 M801.30,146.1V166.7 M804.48,142.7V151.1 M807.65,131.8V150.0 M810.83,129.5V138.2 M814.01,121.6V136.2 M820.37,129.0V138.7 M829.91,126.5V140.0 M833.09,123.5V131.5 M836.26,111.4V128.1 M842.62,110.3V117.8 M848.98,111.6V120.6 M861.70,119.6V128.4 M864.88,115.0V123.5 M868.05,113.5V118.2 M874.41,103.5V122.3" stroke="#b0b1b5" stroke-width="0.9" fill="none"/>
<path d="M9.73,511.1V517.0 M25.62,465.8V480.7 M31.98,470.9V502.9 M41.52,483.0V498.5 M44.69,486.3V494.8 M70.13,395.8V424.8 M76.48,396.4V411.8 M92.38,282.7V326.6 M95.56,291.5V334.6 M111.45,226.1V271.7 M120.99,217.9V238.3 M124.17,223.7V247.1 M133.71,207.1V241.9 M136.88,225.9V257.8 M146.42,220.8V268.8 M149.60,259.1V328.2 M162.32,278.0V311.8 M165.50,300.9V334.6 M171.85,300.0V317.6 M175.03,305.8V323.0 M194.11,246.5V260.1 M200.47,239.2V272.4 M206.82,253.5V284.6 M219.54,202.2V220.8 M232.25,203.8V231.4 M235.43,220.8V237.4 M238.61,221.6V275.4 M244.97,245.6V262.9 M251.33,241.6V262.5 M254.51,256.1V281.1 M260.87,269.9V308.6 M270.40,261.8V276.9 M273.58,265.3V291.1 M276.76,285.0V307.2 M283.12,273.2V294.4 M292.66,253.8V267.4 M295.83,257.1V275.0 M299.01,270.3V286.2 M302.19,272.1V289.1 M305.37,280.0V293.6 M308.55,283.1V309.9 M311.73,304.0V354.3 M314.91,321.0V335.7 M318.09,324.6V339.0 M324.45,319.0V347.6 M327.62,344.7V411.8 M333.98,377.6V403.2 M340.34,376.8V400.7 M349.88,365.8V374.0 M356.24,355.5V385.6 M359.41,377.6V395.8 M368.95,371.2V397.4 M372.13,392.2V407.4 M381.67,391.8V407.0 M394.38,383.4V431.8 M397.56,415.4V428.8 M407.10,413.6V420.1 M410.28,404.9V424.4 M416.64,417.6V423.6 M432.53,361.2V373.3 M435.71,366.8V380.8 M442.07,355.5V371.9 M445.25,363.8V377.2 M448.43,372.3V395.4 M454.78,334.0V347.6 M467.50,325.6V344.1 M473.86,329.0V341.0 M477.04,334.6V351.8 M480.22,340.7V347.6 M486.57,336.5V347.6 M489.75,342.4V354.6 M502.47,320.3V329.8 M508.83,326.1V330.8 M512.01,326.6V334.3 M515.19,327.9V335.7 M521.54,329.8V355.5 M524.72,345.9V354.9 M527.90,338.2V354.9 M531.08,347.9V354.6 M537.44,341.8V349.1 M543.80,335.7V343.8 M546.98,339.0V347.6 M575.59,268.9V282.5 M581.94,268.8V278.0 M588.30,251.2V277.3 M591.48,269.5V282.1 M607.38,238.9V246.5 M616.91,187.0V207.9 M620.09,197.7V217.4 M626.45,192.2V208.1 M629.63,189.1V208.6 M632.81,202.2V220.5 M635.99,201.6V213.3 M642.35,205.7V218.9 M651.88,193.9V202.9 M658.24,194.8V206.9 M661.42,201.5V211.3 M664.60,210.8V223.7 M667.78,209.7V237.4 M680.49,195.3V227.2 M686.85,214.8V230.0 M693.21,208.1V227.0 M696.39,220.0V240.3 M709.11,205.5V220.0 M718.64,196.4V206.7 M734.54,140.9V154.5 M744.07,126.8V152.1 M747.25,139.5V151.7 M753.61,135.2V153.8 M763.15,129.6V143.0 M766.33,135.5V153.8 M769.51,141.1V148.9 M775.86,144.9V177.9 M779.04,147.4V174.3 M788.58,158.0V171.2 M791.76,158.5V180.1 M817.19,123.4V134.5 M823.55,123.5V135.3 M826.73,125.8V142.2 M839.44,106.6V116.5 M845.80,111.0V121.7 M852.16,105.0V115.0 M855.34,113.9V122.0 M858.52,119.3V128.3 M871.23,116.1V126.4 M877.59,102.8V128.7 M880.77,116.1V133.9" stroke="#8f9096" stroke-width="0.9" fill="none"/>
<path d="M2.42,515.7h1.9V518.1h-1.9Z M5.60,511.9h1.9V515.7h-1.9Z M11.95,501.5h1.9V513.9h-1.9Z M15.13,484.6h1.9V501.5h-1.9Z M18.31,476.2h1.9V484.6h-1.9Z M21.49,473.1h1.9V476.2h-1.9Z M27.85,475.8h1.9V476.6h-1.9Z M34.21,495.4h1.9V496.5h-1.9Z M37.39,486.7h1.9V495.4h-1.9Z M46.92,480.4h1.9V490.3h-1.9Z M50.10,478.6h1.9V480.4h-1.9Z M53.28,459.0h1.9V478.6h-1.9Z M56.46,450.4h1.9V459.0h-1.9Z M59.64,432.0h1.9V450.4h-1.9Z M62.82,427.2h1.9V432.0h-1.9Z M66.00,404.7h1.9V427.2h-1.9Z M72.36,396.9h1.9V406.8h-1.9Z M78.71,366.7h1.9V398.7h-1.9Z M81.89,349.1h1.9V366.7h-1.9Z M85.07,313.3h1.9V349.1h-1.9Z M88.25,290.3h1.9V313.3h-1.9Z M97.79,312.7h1.9V316.8h-1.9Z M100.97,287.6h1.9V312.7h-1.9Z M104.14,252.4h1.9V287.6h-1.9Z M107.32,226.3h1.9V252.4h-1.9Z M113.68,245.0h1.9V263.8h-1.9Z M116.86,222.1h1.9V245.0h-1.9Z M126.40,224.2h1.9V230.9h-1.9Z M129.58,219.5h1.9V224.2h-1.9Z M139.11,228.6h1.9V250.9h-1.9Z M142.29,224.1h1.9V228.6h-1.9Z M151.83,301.1h1.9V305.4h-1.9Z M155.01,300.4h1.9V301.2h-1.9Z M158.19,287.0h1.9V300.5h-1.9Z M167.73,302.7h1.9V305.4h-1.9Z M177.26,302.2h1.9V319.0h-1.9Z M180.44,283.7h1.9V302.2h-1.9Z M183.62,268.8h1.9V283.7h-1.9Z M186.80,257.8h1.9V268.8h-1.9Z M189.98,250.3h1.9V257.8h-1.9Z M196.34,242.7h1.9V251.9h-1.9Z M202.69,256.9h1.9V261.0h-1.9Z M209.05,253.8h1.9V271.0h-1.9Z M212.23,234.0h1.9V253.8h-1.9Z M215.41,215.6h1.9V234.0h-1.9Z M221.77,216.1h1.9V217.1h-1.9Z M224.95,211.1h1.9V216.1h-1.9Z M228.13,205.7h1.9V211.1h-1.9Z M240.84,247.7h1.9V250.0h-1.9Z M247.20,245.6h1.9V258.8h-1.9Z M256.74,271.4h1.9V275.8h-1.9Z M263.10,291.5h1.9V298.3h-1.9Z M266.27,273.9h1.9V291.5h-1.9Z M278.99,289.5h1.9V292.4h-1.9Z M285.35,278.0h1.9V291.9h-1.9Z M288.53,258.4h1.9V278.0h-1.9Z M320.32,328.7h1.9V331.1h-1.9Z M329.85,383.9h1.9V387.5h-1.9Z M336.21,385.3h1.9V397.4h-1.9Z M342.57,372.8h1.9V385.8h-1.9Z M345.75,367.8h1.9V372.8h-1.9Z M352.11,361.2h1.9V368.7h-1.9Z M361.64,391.9h1.9V395.4h-1.9Z M364.82,378.1h1.9V391.9h-1.9Z M374.36,399.4h1.9V401.5h-1.9Z M377.54,396.2h1.9V399.4h-1.9Z M383.90,395.2h1.9V397.7h-1.9Z M387.08,387.0h1.9V395.2h-1.9Z M390.25,384.7h1.9V387.0h-1.9Z M399.79,422.6h1.9V424.1h-1.9Z M402.97,416.2h1.9V422.6h-1.9Z M412.51,418.9h1.9V419.7h-1.9Z M418.87,416.2h1.9V420.9h-1.9Z M422.04,385.0h1.9V416.2h-1.9Z M425.22,371.9h1.9V385.0h-1.9Z M428.40,364.9h1.9V371.9h-1.9Z M437.94,361.4h1.9V378.4h-1.9Z M450.66,339.0h1.9V375.8h-1.9Z M457.01,338.1h1.9V339.2h-1.9Z M460.19,337.2h1.9V338.1h-1.9Z M463.37,326.6h1.9V337.2h-1.9Z M469.73,332.2h1.9V341.3h-1.9Z M482.45,338.6h1.9V346.2h-1.9Z M491.98,348.6h1.9V351.1h-1.9Z M495.16,325.7h1.9V348.6h-1.9Z M498.34,325.0h1.9V325.8h-1.9Z M504.70,326.7h1.9V327.5h-1.9Z M517.41,332.0h1.9V333.3h-1.9Z M533.31,347.5h1.9V351.7h-1.9Z M539.67,339.1h1.9V349.1h-1.9Z M549.20,328.2h1.9V343.8h-1.9Z M552.38,306.2h1.9V328.2h-1.9Z M555.56,303.8h1.9V306.2h-1.9Z M558.74,295.0h1.9V303.8h-1.9Z M561.92,293.8h1.9V295.0h-1.9Z M565.10,293.2h1.9V294.0h-1.9Z M568.28,283.2h1.9V293.4h-1.9Z M571.46,268.9h1.9V283.2h-1.9Z M577.82,271.7h1.9V277.8h-1.9Z M584.17,268.4h1.9V274.4h-1.9Z M593.71,275.3h1.9V277.0h-1.9Z M596.89,273.3h1.9V275.3h-1.9Z M600.07,253.5h1.9V273.3h-1.9Z M603.25,241.5h1.9V253.5h-1.9Z M609.61,211.5h1.9V242.7h-1.9Z M612.78,197.7h1.9V211.5h-1.9Z M622.32,192.4h1.9V201.7h-1.9Z M638.22,209.3h1.9V211.5h-1.9Z M644.57,203.9h1.9V215.6h-1.9Z M647.75,198.7h1.9V203.9h-1.9Z M654.11,196.1h1.9V200.4h-1.9Z M670.01,217.4h1.9V230.7h-1.9Z M673.19,199.4h1.9V217.4h-1.9Z M676.37,198.9h1.9V199.7h-1.9Z M682.72,222.8h1.9V224.5h-1.9Z M689.08,208.8h1.9V223.6h-1.9Z M698.62,221.8h1.9V233.5h-1.9Z M701.80,210.4h1.9V221.8h-1.9Z M704.98,205.5h1.9V210.4h-1.9Z M711.33,211.8h1.9V212.6h-1.9Z M714.51,197.5h1.9V212.1h-1.9Z M720.87,198.1h1.9V199.8h-1.9Z M724.05,173.6h1.9V198.1h-1.9Z M727.23,156.1h1.9V173.6h-1.9Z M730.41,142.5h1.9V156.1h-1.9Z M736.77,137.6h1.9V143.8h-1.9Z M739.94,132.6h1.9V137.6h-1.9Z M749.48,141.9h1.9V149.7h-1.9Z M755.84,137.3h1.9V148.2h-1.9Z M759.02,135.3h1.9V137.3h-1.9Z M771.74,145.1h1.9V145.9h-1.9Z M781.27,169.3h1.9V173.0h-1.9Z M784.45,162.8h1.9V169.3h-1.9Z M793.99,167.1h1.9V177.5h-1.9Z M797.17,164.5h1.9V167.1h-1.9Z M800.35,149.4h1.9V164.5h-1.9Z M803.52,148.5h1.9V149.4h-1.9Z M806.70,133.0h1.9V148.5h-1.9Z M809.88,129.5h1.9V133.0h-1.9Z M813.06,125.8h1.9V129.5h-1.9Z M819.42,130.2h1.9V131.0h-1.9Z M828.96,126.7h1.9V137.9h-1.9Z M832.14,125.5h1.9V126.7h-1.9Z M835.31,111.9h1.9V125.5h-1.9Z M841.67,111.5h1.9V114.3h-1.9Z M848.03,111.7h1.9V118.5h-1.9Z M860.75,122.8h1.9V126.9h-1.9Z M863.93,117.0h1.9V122.8h-1.9Z M867.10,116.6h1.9V117.4h-1.9Z M873.46,106.2h1.9V121.3h-1.9Z" fill="#e4e4e8" stroke="#9fa0a6" stroke-width="0.75"/>
<path d="M8.68,511.9h2.1V513.9h-2.1Z M24.57,473.1h2.1V476.6h-2.1Z M30.93,475.8h2.1V496.5h-2.1Z M40.47,486.7h2.1V488.8h-2.1Z M43.64,488.8h2.1V490.3h-2.1Z M69.08,404.7h2.1V406.8h-2.1Z M75.43,396.9h2.1V398.7h-2.1Z M91.33,290.3h2.1V300.3h-2.1Z M94.51,300.3h2.1V316.8h-2.1Z M110.40,226.3h2.1V263.8h-2.1Z M119.94,222.1h2.1V226.5h-2.1Z M123.12,226.5h2.1V230.9h-2.1Z M132.66,219.5h2.1V229.7h-2.1Z M135.83,229.7h2.1V250.9h-2.1Z M145.37,224.1h2.1V259.7h-2.1Z M148.55,259.7h2.1V305.4h-2.1Z M161.27,287.0h2.1V301.3h-2.1Z M164.45,301.3h2.1V305.4h-2.1Z M170.80,302.7h2.1V307.4h-2.1Z M173.98,307.4h2.1V319.0h-2.1Z M193.06,250.3h2.1V251.9h-2.1Z M199.41,242.7h2.1V261.0h-2.1Z M205.77,256.9h2.1V271.0h-2.1Z M218.49,215.6h2.1V217.1h-2.1Z M231.20,205.7h2.1V222.9h-2.1Z M234.38,222.9h2.1V226.7h-2.1Z M237.56,226.7h2.1V250.0h-2.1Z M243.92,247.7h2.1V258.8h-2.1Z M250.28,245.6h2.1V256.8h-2.1Z M253.46,256.8h2.1V275.8h-2.1Z M259.82,271.4h2.1V298.3h-2.1Z M269.35,273.9h2.1V275.0h-2.1Z M272.53,275.0h2.1V289.5h-2.1Z M275.71,289.5h2.1V292.4h-2.1Z M282.07,289.5h2.1V291.9h-2.1Z M291.61,258.4h2.1V259.8h-2.1Z M294.78,259.8h2.1V274.7h-2.1Z M297.96,274.7h2.1V284.2h-2.1Z M301.14,284.2h2.1V285.2h-2.1Z M304.32,285.2h2.1V289.1h-2.1Z M307.50,289.1h2.1V308.3h-2.1Z M310.68,308.3h2.1V321.5h-2.1Z M313.86,321.5h2.1V326.6h-2.1Z M317.04,326.6h2.1V331.1h-2.1Z M323.40,328.7h2.1V347.1h-2.1Z M326.57,347.1h2.1V387.5h-2.1Z M332.93,383.9h2.1V397.4h-2.1Z M339.29,385.1h2.1V385.9h-2.1Z M348.83,367.8h2.1V368.7h-2.1Z M355.19,361.2h2.1V380.3h-2.1Z M358.36,380.3h2.1V395.4h-2.1Z M367.90,378.1h2.1V396.4h-2.1Z M371.08,396.4h2.1V401.5h-2.1Z M380.62,396.2h2.1V397.7h-2.1Z M393.33,384.7h2.1V423.6h-2.1Z M396.51,423.4h2.1V424.2h-2.1Z M406.05,415.9h2.1V416.7h-2.1Z M409.23,416.5h2.1V419.7h-2.1Z M415.59,418.9h2.1V420.9h-2.1Z M431.48,364.9h2.1V370.3h-2.1Z M434.66,370.3h2.1V378.4h-2.1Z M441.02,361.4h2.1V366.2h-2.1Z M444.20,366.2h2.1V373.8h-2.1Z M447.38,373.8h2.1V375.8h-2.1Z M453.73,338.7h2.1V339.5h-2.1Z M466.45,326.6h2.1V341.3h-2.1Z M472.81,332.2h2.1V336.6h-2.1Z M475.99,336.6h2.1V345.2h-2.1Z M479.17,345.2h2.1V346.2h-2.1Z M485.52,338.6h2.1V344.0h-2.1Z M488.70,344.0h2.1V351.1h-2.1Z M501.42,325.1h2.1V327.3h-2.1Z M507.78,327.0h2.1V327.8h-2.1Z M510.96,327.8h2.1V332.0h-2.1Z M514.14,332.0h2.1V333.3h-2.1Z M520.49,332.0h2.1V349.6h-2.1Z M523.67,349.4h2.1V350.2h-2.1Z M526.85,350.1h2.1V350.9h-2.1Z M530.03,350.8h2.1V351.7h-2.1Z M536.39,347.5h2.1V349.1h-2.1Z M542.75,338.8h2.1V339.6h-2.1Z M545.93,339.4h2.1V343.8h-2.1Z M574.54,268.9h2.1V277.8h-2.1Z M580.89,271.7h2.1V274.4h-2.1Z M587.25,268.4h2.1V276.4h-2.1Z M590.43,276.3h2.1V277.1h-2.1Z M606.33,241.5h2.1V242.7h-2.1Z M615.86,197.7h2.1V198.9h-2.1Z M619.04,198.9h2.1V201.7h-2.1Z M625.40,192.4h2.1V196.7h-2.1Z M628.58,196.7h2.1V205.1h-2.1Z M631.76,205.1h2.1V207.0h-2.1Z M634.94,207.0h2.1V211.5h-2.1Z M641.30,209.3h2.1V215.6h-2.1Z M650.83,198.7h2.1V200.4h-2.1Z M657.19,196.1h2.1V202.9h-2.1Z M660.37,202.9h2.1V211.3h-2.1Z M663.55,211.3h2.1V212.4h-2.1Z M666.73,212.4h2.1V230.7h-2.1Z M679.44,199.3h2.1V224.5h-2.1Z M685.80,222.8h2.1V223.6h-2.1Z M692.16,208.8h2.1V226.7h-2.1Z M695.34,226.7h2.1V233.5h-2.1Z M708.06,205.5h2.1V212.3h-2.1Z M717.59,197.5h2.1V199.8h-2.1Z M733.49,142.5h2.1V143.8h-2.1Z M743.02,132.6h2.1V147.2h-2.1Z M746.20,147.2h2.1V149.7h-2.1Z M752.56,141.9h2.1V148.2h-2.1Z M762.10,135.3h2.1V143.0h-2.1Z M765.28,143.0h2.1V144.9h-2.1Z M768.46,144.8h2.1V145.6h-2.1Z M774.81,145.3h2.1V148.6h-2.1Z M777.99,148.6h2.1V173.0h-2.1Z M787.53,162.8h2.1V169.7h-2.1Z M790.71,169.7h2.1V177.5h-2.1Z M816.14,125.8h2.1V130.6h-2.1Z M822.50,130.3h2.1V131.1h-2.1Z M825.68,130.9h2.1V137.9h-2.1Z M838.39,111.9h2.1V114.3h-2.1Z M844.75,111.5h2.1V118.5h-2.1Z M851.11,111.7h2.1V114.2h-2.1Z M854.29,114.2h2.1V119.5h-2.1Z M857.47,119.5h2.1V126.9h-2.1Z M870.18,117.0h2.1V121.3h-2.1Z M876.54,106.2h2.1V117.4h-2.1Z M879.72,117.4h2.1V128.7h-2.1Z" fill="#30323a"/>
</g>
<g stroke="#111" stroke-width="2.2" fill="none" stroke-linecap="round" stroke-linejoin="round"><path d="M186.8,321.3H196.8"/><path d="M191.2,316.8L186.6,321.3L191.2,325.8"/></g>
<g stroke="#111" stroke-width="2.2" fill="none" stroke-linecap="round" stroke-linejoin="round"><path d="M215.3,283.9H225.3"/><path d="M219.7,279.4L215.1,283.9L219.7,288.4"/></g>
<g stroke="#111" stroke-width="2.2" fill="none" stroke-linecap="round" stroke-linejoin="round"><path d="M265.9,252.6H275.9"/><path d="M270.3,248.1L265.7,252.6L270.3,257.1"/></g>
<g stroke="#111" stroke-width="2.2" fill="none" stroke-linecap="round" stroke-linejoin="round"><path d="M705.0,241.7H715.0"/><path d="M709.4,237.2L704.8,241.7L709.4,246.2"/></g>
<g stroke="#111" stroke-width="2.2" fill="none" stroke-linecap="round" stroke-linejoin="round"><path d="M803.5,181.3H813.5"/><path d="M807.9,176.8L803.3,181.3L807.9,185.8"/></g>
<g stroke="#111" stroke-width="2.2" fill="none" stroke-linecap="round" stroke-linejoin="round"><path d="M892.3,129.0H902.3"/><path d="M896.7,124.5L892.1,129.0L896.7,133.5"/></g>
<g stroke="#e0e0e3" stroke-width="1" fill="none"><path d="M967.5,9.5V547"/><path d="M3,533.5H1013"/></g>
<rect x="969.5" y="10.5" width="43.5" height="13.8" rx="2" fill="#fff" stroke="#ececee" stroke-width="1"/>
<text x="971.2" y="19.9" font-size="7" fill="#4a4a4d">USD</text>
<path d="M1006.6,16.9l2.3,2.4l2.3,-2.4z" fill="#55565a"/>
<g font-size="7.6" fill="#2e2f33">
<text x="972" y="33.1">200,000.00</text>
<text x="972" y="58.6">170,000.00</text>
<text x="972" y="78.2">150,000.00</text>
<text x="972" y="100.7">130,000.00</text>
<text x="972" y="121.3">114,000.00</text>
<text x="972" y="158.4">90,000.00</text>
<text x="972" y="180.8">78,000.00</text>
<text x="972" y="202.3">68,000.00</text>
<text x="972" y="222.0">60,000.00</text>
<text x="972" y="244.4">52,000.00</text>
<text x="972" y="263.6">46,000.00</text>
<text x="972" y="285.6">40,000.00</text>
<text x="972" y="311.1">34,000.00</text>
<text x="972" y="330.7">30,000.00</text>
<text x="972" y="353.1">26,000.00</text>
<text x="972" y="372.4">23,000.00</text>
<text x="972" y="390.4">20,500.00</text>
<text x="972" y="410.8">18,000.00</text>
<text x="972" y="429.3">16,000.00</text>
<text x="972" y="450.2">14,000.00</text>
<text x="972" y="469.3">12,400.00</text>
<text x="972" y="488.1">11,000.00</text>
<text x="972" y="506.2">9,800.00</text>
<text x="972" y="524.9">8,700.00</text>
</g>
<rect x="967.5" y="125.2" width="45.8" height="8.6" fill="#2b2e3a"/>
<text x="972.6" y="132.3" font-size="7.6" fill="#fff">107,013.53</text>
<rect x="967.5" y="133.8" width="45.8" height="8.7" fill="#71cf82"/>
<text x="972.6" y="141.0" font-size="7.6" fill="#16321c">101,291.42</text>
<text x="7.0" y="544.2" font-size="7.2" fill="#6a6b70" text-anchor="middle">Jul</text>
<text x="89.2" y="544.2" font-size="7.6" font-weight="700" fill="#1d1e22" text-anchor="middle" letter-spacing="0.35">2021</text>
<text x="172.0" y="544.2" font-size="7.2" fill="#6a6b70" text-anchor="middle">Jul</text>
<text x="254.3" y="544.2" font-size="7.6" font-weight="700" fill="#1d1e22" text-anchor="middle" letter-spacing="0.35">2022</text>
<text x="337.5" y="544.2" font-size="7.2" fill="#6a6b70" text-anchor="middle">Jul</text>
<text x="419.5" y="544.2" font-size="7.6" font-weight="700" fill="#1d1e22" text-anchor="middle" letter-spacing="0.35">2023</text>
<text x="502.5" y="544.2" font-size="7.2" fill="#6a6b70" text-anchor="middle">Jul</text>
<text x="585.5" y="544.2" font-size="7.6" font-weight="700" fill="#1d1e22" text-anchor="middle" letter-spacing="0.35">2024</text>
<text x="667.8" y="544.2" font-size="7.2" fill="#6a6b70" text-anchor="middle">Jul</text>
<text x="753.7" y="544.2" font-size="7.6" font-weight="700" fill="#1d1e22" text-anchor="middle" letter-spacing="0.35">2025</text>
<text x="836.3" y="544.2" font-size="7.2" fill="#6a6b70" text-anchor="middle">Jul</text>
<text x="918.9" y="544.2" font-size="7.6" font-weight="700" fill="#1d1e22" text-anchor="middle" letter-spacing="0.35">2026</text>
<circle cx="991.1" cy="541.6" r="5.4" fill="#f1f1f3"/><text x="991.1" y="543.9" font-size="6.2" fill="#8a8b90" text-anchor="middle">A</text>
<circle cx="12.2" cy="17.0" r="5.1" fill="#f1913a"/>
<text x="12.1" y="19.5" font-size="7" font-weight="700" font-style="italic" fill="#fff" text-anchor="middle">B</text>
<text x="19.9" y="20.0" font-size="9.2" fill="#2a2b2f" stroke="#2a2b2f" stroke-width="0.2" textLength="145" lengthAdjust="spacingAndGlyphs">Bitcoin / U.S. Dollar · 1W · Coinbase</text>
<text x="89.6" y="62.5" font-size="18" fill="#1b1c1f" stroke="#1b1c1f" stroke-width="0.25" textLength="141" lengthAdjust="spacingAndGlyphs">Gaussian Channel</text>
<defs><clipPath id="avc"><circle cx="54" cy="54.5" r="24.6"/></clipPath>
<filter id="bl" x="-20%" y="-20%" width="140%" height="140%"><feGaussianBlur stdDeviation="0.55"/></filter>
<filter id="bl2" x="-30%" y="-30%" width="160%" height="160%"><feGaussianBlur stdDeviation="2"/></filter>
<filter id="bl3" x="-50%" y="-50%" width="200%" height="200%"><feGaussianBlur stdDeviation="1.1"/></filter>
<linearGradient id="sky" x1="0" y1="0" x2="1" y2="0.3"><stop offset="0" stop-color="#b7cfa6"/><stop offset="0.5" stop-color="#a9c79f"/><stop offset="1" stop-color="#8fb897"/></linearGradient></defs>
<g clip-path="url(#avc)">
<rect x="28" y="28" width="54" height="54" fill="url(#sky)"/>
<g filter="url(#bl2)">
<ellipse cx="35" cy="47" rx="6" ry="10" fill="#d3dcb9" opacity="0.9"/>
<ellipse cx="71" cy="40" rx="8" ry="5" fill="#dde2c4" opacity="0.95"/>
<ellipse cx="37" cy="68" rx="8" ry="4.500" fill="#e6e0c2" opacity="0.9"/>
<ellipse cx="73" cy="60" rx="5" ry="8" fill="#b7cfa6" opacity="0.9"/>
<ellipse cx="50" cy="32" rx="10" ry="3" fill="#d9dcae" opacity="0.8"/>
<ellipse cx="70" cy="73" rx="7" ry="4" fill="#c9d4ae" opacity="0.8"/>
</g>
<g filter="url(#bl)">
<path d="M38,82 C40,75 45,72.500 49.500,70.500 L59.500,70 C64,72 70,74 74,82 Z" fill="#cda465"/>
<path d="M41,82 C43,77 46,75 49,74 L52,80 L57,80 L60,73 C63,75 66,77 68,82Z" fill="#b98b4a"/>
<path d="M48.500,72.500 L49.500,63 L60,63 L60.500,72 C58,75.500 52,76 48.500,72.500Z" fill="#9a7a34"/>
<path d="M55,66 L60,63 L60.500,72 C59,74 57,74.800 55,75Z" fill="#6b5420"/>
<path d="M40.500,52 C38.500,46 40,40 44,37 C47,34 52,33.500 56,34 C62,34 66.500,38.500 66.500,45 C67.500,50 67,55 66,59 C67,61 68,62 69,62.500 C67,63 65,62 64,60.500 L62.500,57 L62.500,45 L47,45.500 L46.500,57 C45.500,61 44,64 41,66.500 C42.500,63 43,60 42.500,57 C41.500,56 40.500,54 40.500,52Z" fill="#b39a2e"/>
<path d="M42,45 C43.500,39 48,35.500 53,35.500 C59,35 64.500,38 65.500,44 C62,41.500 58.500,41 55,42.500 C52,41 47,42 42,45Z" fill="#d2bb48"/>
<path d="M40,49 C41,45 43,42 45.500,41 L46.500,50 C45,51 43.500,53 42.500,56 C41,54 40,52 40,49Z" fill="#c9b13e"/>
<path d="M46.300,45.500 C47,42.500 50.500,41.500 54.500,41.500 C58.500,41.500 62.300,42.500 62.800,45.500 L62.800,56 C62.300,62 58.500,67.300 54,68 C50.500,67.500 46.800,62.500 46.300,56Z" fill="#c4ae3c"/>
<path d="M58.500,43 C61,43.500 62.600,44.500 62.800,46 L62.800,56 C62.300,62 58.500,67.300 54.500,68 C57,64 58.500,60 58.500,55Z" fill="#8f7f26"/>
<path d="M47,57 C49,59.500 51.500,60 54,60 C57,60 60,59 62.500,56.500 C62,62.500 58.500,67.300 54,68 C50.500,67.500 47.300,63 47,57Z" fill="#a8962c"/>
<path d="M51.500,58.200 h5.500 v1.200 h-5.500z" fill="#5e5216"/>
<path d="M53,49 L52.300,55 L56,55 L55,49z" fill="#a08c28"/>
<path d="M51.500,55.200 h4.800 v0.900 h-4.800z" fill="#6e611a"/>
<path d="M45,44.300 L51.500,45.200 L51.500,46 L45,45.300Z M55,45 L61.500,43.300 L61.500,44.300 L55,45.900Z" fill="#6e611a"/>
</g>
<g filter="url(#bl)" fill="none" stroke-linecap="round">
<path d="M46.300,56 C46.800,62.500 50.500,67.500 54,68.200 C58.500,67.500 62.300,62 62.800,56" stroke="#5a4b14" stroke-width="0.9"/>
<path d="M44,38.500 C46,37 48,36.500 50,36.800 M47,40 C49,38 52,37.500 55,38.500 M56,36 C59,36.500 62,38.500 63.500,41.500 M42,43 C41,46 41,50 42,53 M43.500,56 C44,59 43,62 41.500,65 M65,47 C66,51 65.500,55 65,58 M63.500,52 L64.500,58" stroke="#7d6c1e" stroke-width="0.7"/>
<path d="M41.500,39.500 L39.500,38 M44,36 L43,34.300 M48,34.300 L47.500,33 M40.800,57 L39,60.500 M66.500,59.500 L68.500,63 M65.500,62 L66.500,66" stroke="#b39a2e" stroke-width="1.1"/>
<path d="M49.500,70.500 C47,73 46,76 46,80 M59.500,70 C62,73 63,76 63.500,80 M52,75 L54,79 L57,75" stroke="#7a5a26" stroke-width="0.7"/>
</g>
<g filter="url(#bl3)"><ellipse cx="48.300" cy="48.000" rx="3.300" ry="2.500" fill="#fffad6"/><ellipse cx="57.700" cy="46.700" rx="3.300" ry="2.500" fill="#fffad6"/></g>
<ellipse cx="48.300" cy="48.000" rx="2.400" ry="1.800" fill="#fff"/><ellipse cx="57.700" cy="46.700" rx="2.400" ry="1.800" fill="#fff"/>
</g>

<g fill="#f0932f">
<rect x="815.6" y="400.3" width="7.6" height="14" /><rect x="830" y="400.3" width="7.7" height="14"/>
<rect x="815.6" y="471" width="7.6" height="13" /><rect x="830" y="471" width="7.9" height="13"/>
<path fill-rule="evenodd" d="M799.3,413.2 H838 C850,413.2 856.8,418.6 856.8,427.6 C856.8,433.6 853.6,437.6 848.6,439.6 C856.2,441.4 861.2,446.6 861.2,454.6 C861.2,466.2 852.6,472.7 839,472.7 H799.6 L801.6,463.3 H805.3 C808.3,463.3 809.3,462.3 809.3,459.3 V426 C809.300,423 808.3,422 805.3,422 H799.3 Z M823.2,422 V437.7 H832.5 C839.2,437.7 842.7,434.9 842.7,429.8 C842.7,424.700 839.2,422 832.5,422 Z M823.2,446 V463.3 H834.500 C841.8,463.3 845.9,460.3 845.9,454.6 C845.9,448.9 841.8,446 834.500,446 Z"/>
</g>
<text y="502.7" font-size="16" font-weight="700" fill="#0b0b0b" style="font-family:&quot;DejaVu Sans&quot;,&quot;Liberation Sans&quot;,sans-serif"><tspan x="738.4" textLength="74.6" lengthAdjust="spacingAndGlyphs">@TITAN</tspan> <tspan x="817.2" textLength="25.8" lengthAdjust="spacingAndGlyphs">OF</tspan> <tspan x="846.3" textLength="74.6" lengthAdjust="spacingAndGlyphs">CRYPTO</tspan></text>
<g><path d="M9.4,517.1H16.600V525.3H13.2V520.3H9.4Z M18.1,518.7a1.6,1.6 0 1,0 3.2,0a1.6,1.6 0 1,0 -3.2,0Z M22.3,517.1H25.900L22.5,525.3H18.9Z" fill="#111" stroke="#fff" stroke-width="1.2" paint-order="stroke" stroke-linejoin="round"/></g>
</svg></body></html>
